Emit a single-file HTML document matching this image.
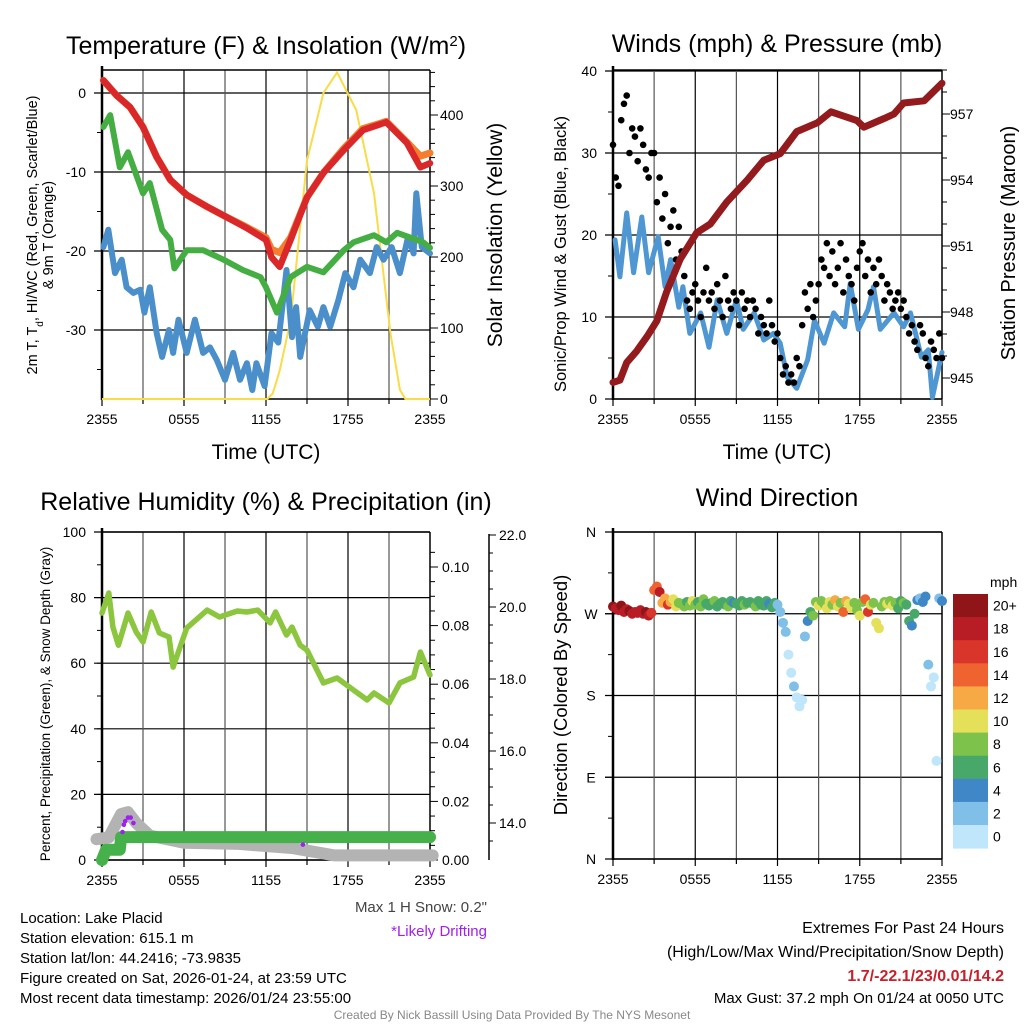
<!DOCTYPE html>
<html><head><meta charset="utf-8"><style>
html,body{margin:0;padding:0;background:#fff;}
svg{display:block;font-family:"Liberation Sans",Arial,sans-serif;}
</style></head><body>
<svg id="c" width="1024" height="1024" viewBox="0 0 1024 1024" xmlns="http://www.w3.org/2000/svg">
<rect width="1024" height="1024" fill="#fff"/>
<g id="g1"></g>
<g id="g2"></g>
<g id="g3"></g>
<g id="g4"></g>
<g font-size="15" fill="#000">
<text x="20" y="923">Location: Lake Placid</text>
<text x="20" y="943">Station elevation: 615.1 m</text>
<text x="20" y="963">Station lat/lon: 44.2416; -73.9835</text>
<text x="20" y="983">Figure created on Sat, 2026-01-24, at 23:59 UTC</text>
<text x="20" y="1003">Most recent data timestamp: 2026/01/24 23:55:00</text>
<text x="487" y="912" text-anchor="end" fill="#444">Max 1 H Snow: 0.2"</text>
<text x="487" y="936" text-anchor="end" fill="#a020f0">*Likely Drifting</text>
<text x="1004" y="933" text-anchor="end" font-size="16">Extremes For Past 24 Hours</text>
<text x="1004" y="957" text-anchor="end" font-size="16">(High/Low/Max Wind/Precipitation/Snow Depth)</text>
<text x="1004" y="981" text-anchor="end" font-size="16" font-weight="bold" fill="#c8202a">1.7/-22.1/23/0.01/14.2</text>
<text x="1004" y="1003" text-anchor="end">Max Gust: 37.2 mph On 01/24 at 0050 UTC</text>
<text x="512" y="1019" text-anchor="middle" font-size="12" fill="#888">Created By Nick Bassill Using Data Provided By The NYS Mesonet</text>
</g>
</svg>
<script>
// ---------- data ----------
const xTickLabels=["2355","0555","1155","1755","2355"];
const tempHours=[0.1,1.07,2.05,3,4,5,6.2,7.7,9.1,10.6,12,12.4,13,13.8,15,16.2,17.7,19.1,20.8,22.3,23.3,24];
const tempVals=[1.6,-0.3,-1.8,-4.3,-8.1,-11,-12.9,-14.4,-15.7,-17.1,-18.6,-20.8,-22,-18.6,-13.2,-10.1,-7.2,-4.7,-3.7,-6.3,-9.4,-8.9];
const temp9Vals=[1.6,-0.3,-1.8,-4.3,-8.1,-11,-12.9,-14.4,-15.7,-17.0,-18.3,-19.8,-20.2,-18.3,-13.2,-10.1,-7.0,-4.5,-3.6,-6.2,-8.0,-7.6];
const dewHours=[0.1,0.6,1.3,1.9,3,3.5,4.4,5,5.3,6.2,7.4,8.9,10.3,11.6,12,12.8,13.8,15,16.2,17.7,18.4,19.9,20.8,21.6,23.5,24];
const dewVals=[-4.3,-2.8,-9.4,-7.5,-12.7,-11.4,-17.3,-18.6,-22.2,-19.9,-19.9,-21.1,-22.4,-23.3,-24.6,-27.8,-23.3,-22,-22.7,-19.9,-18.9,-18,-18.9,-17.7,-18.9,-19.6];
const wcHours=[0.1,0.46,0.95,1.44,1.8,2.3,2.8,3.1,3.5,4,4.4,4.9,5.2,5.6,6.2,6.8,7.4,7.9,8.4,9,9.6,10.1,10.6,11,11.3,11.9,12.4,12.9,13.5,13.9,14.2,14.5,15.2,15.8,16.2,16.7,17.3,17.8,18.4,18.9,19.6,20.1,20.6,21.2,21.8,22.4,22.8,23,23.4,24];
const wcVals=[-19.5,-17.3,-22.8,-21.1,-24.6,-25.3,-24.9,-27.8,-24.6,-30.4,-33.4,-30,-32.9,-28.7,-32.9,-28.7,-32.9,-32.2,-33.8,-36.3,-32.9,-36.3,-34.2,-37.6,-34.2,-37.1,-30.4,-31.6,-22.4,-30.9,-27.1,-33.4,-27.5,-29.6,-27.1,-29.6,-26.2,-22.8,-24.6,-21.1,-22.8,-19.5,-21.1,-19.5,-22.8,-18.2,-20.3,-12.7,-19.5,-20.3];
const solarHours=[0,12.1,12.5,13,13.8,15,16.2,17.2,18.6,19.9,21.1,21.8,22.2,24];
const solarVals=[0,0,8,40,111,336,431,460,407,290,93,13,0,0];
const tempTicks=[0,-10,-20,-30];
const solarTicks=[0,100,200,300,400];

const presHours=[0,0.5,1,1.7,2.5,3.2,3.9,4.9,6.1,7.1,8.3,9.8,11,12.2,13.4,14.9,15.9,16.6,17.8,18.3,19.8,20.5,21.2,22.7,24];
const presVals=[944.8,944.9,945.7,946.2,946.9,947.6,948.9,950.4,951.6,952.0,953,954,954.9,955.2,956.2,956.6,957.1,956.95,956.7,956.4,956.8,957,957.5,957.6,958.4];
const windHours=[0.15,0.5,1,1.5,2.1,2.6,3.3,3.8,4.2,4.8,5.1,5.6,6.4,7,7.6,8.3,9,9.5,10.3,11,11.7,12.2,12.7,13.4,14.2,14.7,15.4,16.1,16.9,17.3,17.9,18.6,19,19.5,20.5,21.2,21.7,22.5,23,23.3,24];
const windVals=[19.4,14.9,22.7,15.4,22.2,15.4,19.8,13.7,17,11.2,13.7,8,10.5,6.3,12.1,8,12.1,8.5,10.5,7.2,8,6.8,2.7,1.3,4.8,9.6,6.8,10.5,8.8,14.1,8.5,10.9,13.7,8.5,10.5,8.8,10.5,5.1,6,0.2,5.7];
const gustVals=[31,27,26,34,36,37,30,33,32,29,33,31,28,27,30,30,24,27,22,25,19,21,23,17,21,18,15,12,11,13,14,12,10,13,16,12,13,11,14,12,10,15,12,11,13,12,9,13,11,12,10,12,11,8,10,9,8,12,9,7,8,5,3,4,2,3,2,5,4,9,13,11,14,10,12,14,17,16,19,15,18,14,16,19,13,17,15,14,12,16,18,19,15,17,13,16,14,17,15,12,14,13,11,12,13,11,12,10,8,9,7,6,9,8,5,4,7,6,5,8,5];
const windTicks=[0,10,20,30,40];
const presTicks=[945,948,951,954,957];

const rhHours=[0,0.5,0.8,1.2,1.9,2.5,3,3.6,4.2,4.9,5.2,6.2,7.7,8.6,9.9,10.6,11.4,12.3,12.7,13.5,13.9,14.5,15,16.2,17.2,18.1,19.4,19.9,21,21.8,22.8,23.3,24];
const rhVals=[75.3,81.4,71,65.5,75.3,69.5,66.5,75.6,69.2,68,58.8,70.7,76.2,74.1,75.9,75.6,76.2,72.3,75.6,68.6,71,65.5,64,54,55.5,52.7,48.8,50.9,47.9,54,55.8,63.4,56.4];
const snowHours=[-0.4,0.5,1.4,1.9,2.5,3.5,6,10,14,17,24.2];
const snowVals=[13.55,13.6,14.25,14.3,14.0,13.65,13.45,13.42,13.3,13.1,13.1];
const precipHours=[0,0.3,1.3,1.4,24];
const precipVals=[0,0.0035,0.0035,0.0078,0.0078];
const driftHours=[1.5,1.7,1.9,2.1,2.3,1.6,14.7];
const driftVals=[13.75,14.05,14.15,14.15,14.0,13.95,13.4];
const rhTicks=[0,20,40,60,80,100];
const precipTicks=[0,0.02,0.04,0.06,0.08,0.10];
const snowTicks=[14,16,18,20,22];

const dirVals=[278,276,274,279,272,275,273,270,272,271,274,270,272,268,271,296,300,294,282,287,280,283,286,278,282,281,278,283,279,284,280,283,278,286,281,279,282,284,278,281,283,280,278,284,282,281,279,284,280,282,283,281,278,284,280,279,284,281,277,282,280,272,260,250,225,205,190,178,168,175,245,262,272,268,283,279,284,281,276,283,280,285,278,282,272,284,281,276,282,274,268,283,286,272,280,282,260,254,278,283,281,284,279,282,276,284,282,280,262,257,270,285,287,283,289,214,190,200,108,287,284];
const spdVals=[20,19,18,20,19,19,20,18,19,18,19,18,20,19,17,14,15,18,13,12,16,12,11,10,9,8,9,7,8,10,8,7,9,8,7,6,7,8,7,6,7,6,8,7,5,6,7,6,8,7,7,6,8,7,6,6,7,5,6,7,3,2,3,2,1,1,2,1,0,1,3,4,7,8,9,10,9,8,11,10,9,12,10,8,14,13,10,11,9,8,10,9,15,16,10,9,10,10,8,9,10,9,11,8,7,7,8,6,7,5,6,4,3,5,4,2,1,0,1,3,4];
const dirTicks=["N","W","S","E","N"];
const spdColors=["#bfe6fa","#80bfe8","#3f87c6","#47a869","#7cc24b","#e5e05a","#f6a945","#ef6330","#d9352a","#b81c25","#8f1519"];
const spdLabels=["0","2","4","6","8","10","12","14","16","18","20+"];

// ---------- helpers ----------
const NS="http://www.w3.org/2000/svg";
function mk(parent,tag,attrs){const e=document.createElementNS(NS,tag);for(const k in attrs)e.setAttribute(k,attrs[k]);parent.appendChild(e);return e;}
function txt(parent,x,y,s,attrs){const e=mk(parent,"text",Object.assign({x:x,y:y},attrs||{}));e.textContent=s;return e;}
function pathFrom(xs,ys,fx,fy){let d="";for(let i=0;i<xs.length;i++){d+=(i?"L":"M")+fx(xs[i]).toFixed(1)+" "+fy(ys[i]).toFixed(1);}return d;}

function frame(g,L,T,R,B){
  for(let i=1;i<8;i++){const x=L+(R-L)*i/8;
    const l=mk(g,"line",{x1:x,y1:T,x2:x,y2:B,stroke:i%2?"#555":"#000","stroke-width":1.2});
    
    }
  mk(g,"line",{x1:L,y1:T,x2:R,y2:T,stroke:"#000","stroke-width":1.5});
  mk(g,"line",{x1:R,y1:T,x2:R,y2:B,stroke:"#000","stroke-width":1.5});
  mk(g,"line",{x1:L,y1:B,x2:R,y2:B,stroke:"#000","stroke-width":1.5});
  mk(g,"line",{x1:L,y1:T-4,x2:L,y2:B+1,stroke:"#000","stroke-width":2.5});
  for(let i=0;i<=8;i++){const x=L+(R-L)*i/8;mk(g,"line",{x1:x,y1:B,x2:x,y2:B+(i%2?5:7),stroke:"#000","stroke-width":1.2});}
  for(let i=0;i<5;i++){const t=txt(g,L+(R-L)*i/4,B+25,xTickLabels[i],{"text-anchor":"middle","font-size":14});
    
    }
}
function hgrid(g,L,R,y){mk(g,"line",{x1:L-8,y1:y,x2:R,y2:y,stroke:"#000","stroke-width":1.2});}

// ---------- panel 1 ----------
(function(){
  const g=document.getElementById("g1");const L=102,T=70,R=430,B=399;
  const x=h=>L+h*(R-L)/24, yT=t=>93-t*7.9, yS=s=>399-s*0.71;
  for(let t=-35;t<=0;t+=5)mk(g,"line",{x1:L-5,y1:yT(t),x2:L,y2:yT(t),stroke:"#000","stroke-width":1});
  tempTicks.forEach(t=>{hgrid(g,L,R,yT(t));const e=txt(g,86,yT(t)+5,String(t),{"text-anchor":"end","font-size":14});
    
    });
  for(let s=0;s<=460;s+=20)mk(g,"line",{x1:R,y1:yS(s),x2:R+(s%100?5:8),y2:yS(s),stroke:"#000","stroke-width":1});
  solarTicks.forEach(s=>{const e=txt(g,440,yS(s)+5,String(s),{"font-size":14});
    
    });
  frame(g,L,T,R,B);
  const sp=mk(g,"path",{d:pathFrom(solarHours,solarVals,x,yS),fill:"none",stroke:"#f8dc48","stroke-width":2});
  
  
  const w=mk(g,"path",{d:pathFrom(wcHours,wcVals,x,yT),fill:"none",stroke:"#4a8fca","stroke-width":6,"stroke-linejoin":"round","stroke-linecap":"round"});
  
  
  const d=mk(g,"path",{d:pathFrom(dewHours,dewVals,x,yT),fill:"none",stroke:"#45ae43","stroke-width":6,"stroke-linejoin":"round","stroke-linecap":"round"});
  
  
  const o=mk(g,"path",{d:pathFrom(tempHours,temp9Vals,x,yT),fill:"none",stroke:"#f57d2c","stroke-width":7,"stroke-linejoin":"round","stroke-linecap":"round"});
  
  
  const r=mk(g,"path",{d:pathFrom(tempHours,tempVals,x,yT),fill:"none",stroke:"#d9272a","stroke-width":6.5,"stroke-linejoin":"round","stroke-linecap":"round"});
  
  
  const ti=txt(g,266,54,"Temperature (F) & Insolation (W/m",{"text-anchor":"middle","font-size":25});
  const sup=mk(ti,"tspan",{"baseline-shift":"super","font-size":15});sup.textContent="2";
  const cl=mk(ti,"tspan",{});cl.textContent=")";
  
  
  const yl=mk(g,"text",{transform:"translate(37,235) rotate(-90)","text-anchor":"middle","font-size":14.5});
  yl.innerHTML='2m T, T<tspan baseline-shift="sub" font-size="10">d</tspan>, HI/WC (Red, Green, Scarlet/Blue)';
  
  
  const yl2=txt(g,0,0,"& 9m T (Orange)",{transform:"translate(53,235) rotate(-90)","text-anchor":"middle","font-size":14.5});
  
  
  const rl=txt(g,0,0,"Solar Insolation (Yellow)",{transform:"translate(502,235) rotate(-90)","text-anchor":"middle","font-size":21});
  
  
  const xl=txt(g,266,459,"Time (UTC)",{"text-anchor":"middle","font-size":21});
  
  
})();

// ---------- panel 2 ----------
(function(){
  const g=document.getElementById("g2");const L=613,T=70,R=942,B=399;
  const x=h=>L+h*(R-L)/24, yW=w=>399-w*8.2, yP=p=>378-(p-945)*22;
  for(let w=0;w<=40;w+=5)mk(g,"line",{x1:L-5,y1:yW(w),x2:L,y2:yW(w),stroke:"#000","stroke-width":1});
  windTicks.forEach(w=>{hgrid(g,L,R,yW(w));const e=txt(g,597,yW(w)+5,String(w),{"text-anchor":"end","font-size":14});
    
    });
  for(let p=944;p<=959;p++){const y=yP(p);if(y<T||y>B)continue;mk(g,"line",{x1:R,y1:y,x2:R+((p-945)%3?5:8),y2:y,stroke:"#000","stroke-width":1});}
  presTicks.forEach(p=>{const e=txt(g,950,yP(p)+5,String(p),{"font-size":14});
    
    });
  frame(g,L,T,R,B);
  const w=mk(g,"path",{d:pathFrom(windHours,windVals,x,yW),fill:"none",stroke:"#4f97d2","stroke-width":5,"stroke-linejoin":"round","stroke-linecap":"round"});
  
  
  gustVals.forEach((v,i)=>{const c=mk(g,"circle",{cx:x(i*0.2),cy:yW(v),r:3.3,fill:"#000"});
    
    });
  const p=mk(g,"path",{d:pathFrom(presHours,presVals,x,yP),fill:"none",stroke:"#931a1d","stroke-width":7,"stroke-linejoin":"round","stroke-linecap":"round"});
  
  
  const ti=txt(g,777,52,"Winds (mph) & Pressure (mb)",{"text-anchor":"middle","font-size":25});
  
  
  const yl=txt(g,0,0,"Sonic/Prop Wind & Gust (Blue, Black)",{transform:"translate(566,254) rotate(-90)","text-anchor":"middle","font-size":16.5});
  
  
  const rl=txt(g,0,0,"Station Pressure (Maroon)",{transform:"translate(1015,243) rotate(-90)","text-anchor":"middle","font-size":20});
  
  
  const xl=txt(g,777,459,"Time (UTC)",{"text-anchor":"middle","font-size":21});
  
  
})();

// ---------- panel 3 ----------
(function(){
  const g=document.getElementById("g3");const L=102,T=532,R=430,B=860;
  const x=h=>L+h*(R-L)/24, yR=r=>860-r*3.28, yPr=p=>860-p*2930, ySn=s=>823-(s-14)*36;
  for(let r=0;r<=100;r+=10)mk(g,"line",{x1:L-5,y1:yR(r),x2:L,y2:yR(r),stroke:"#000","stroke-width":1});
  rhTicks.forEach(r=>{hgrid(g,L,R,yR(r));const e=txt(g,86,yR(r)+5,String(r),{"text-anchor":"end","font-size":14});
    
    });
  for(let p=0;p<=0.11;p+=0.005)mk(g,"line",{x1:R,y1:yPr(p),x2:R+(Math.round(p*1000)%20?5:8),y2:yPr(p),stroke:"#000","stroke-width":1});
  precipTicks.forEach(p=>{const e=txt(g,442,yPr(p)+5,p.toFixed(2),{"font-size":14});
    
    });
  mk(g,"line",{x1:489,y1:534,x2:489,y2:860,stroke:"#000","stroke-width":1.5});
  for(let s=13.5;s<=22;s+=0.5)mk(g,"line",{x1:489,y1:ySn(s),x2:489+(s%2?4:7),y2:ySn(s),stroke:"#000","stroke-width":1});
  snowTicks.forEach(s=>{const e=txt(g,499,ySn(s)+5,s.toFixed(1),{"font-size":14});
    
    });
  frame(g,L,T,R,B);
  const sn=mk(g,"path",{d:pathFrom(snowHours,snowVals,x,ySn),fill:"none",stroke:"#b3b3b3","stroke-width":12,"stroke-linejoin":"round","stroke-linecap":"round"});
  
  
  const pr=mk(g,"path",{d:pathFrom(precipHours,precipVals,x,yPr),fill:"none",stroke:"#46b04a","stroke-width":12,"stroke-linejoin":"round","stroke-linecap":"round"});
  
  
  driftHours.forEach((h,i)=>{const c=mk(g,"circle",{cx:x(h),cy:ySn(driftVals[i]),r:2.3,fill:"#a020f0"});
    
    });
  const rh=mk(g,"path",{d:pathFrom(rhHours,rhVals,x,yR),fill:"none",stroke:"#8cc63f","stroke-width":5.5,"stroke-linejoin":"round","stroke-linecap":"round"});
  
  
  const ti=txt(g,266,510,"Relative Humidity (%) & Precipitation (in)",{"text-anchor":"middle","font-size":25});
  
  
  const yl=txt(g,0,0,"Percent, Precipitation (Green), & Snow Depth (Gray)",{transform:"translate(50,704) rotate(-90)","text-anchor":"middle","font-size":13.5});
  
  
})();

// ---------- panel 4 ----------
(function(){
  const g=document.getElementById("g4");const L=613,T=532,R=942,B=859;
  const x=h=>L+h*(R-L)/24, yD=d=>859-d*0.9083;
  for(let i=0;i<=8;i++){const y=B-(B-T)*i/8;mk(g,"line",{x1:L-(i%2?5:8),y1:y,x2:L,y2:y,stroke:"#000","stroke-width":1});}
  dirTicks.forEach((s,i)=>{const y=B-(B-T)*(4-i)/4;hgrid(g,L,R,y);const e=txt(g,591,y+5,s,{"text-anchor":"middle","font-size":14});
    
    });
  frame(g,L,T,R,B);
  dirVals.forEach((d,i)=>{const s=spdVals[i];const c=mk(g,"circle",{cx:x(i*0.2),cy:yD(d),r:5,fill:spdColors[Math.min(10,Math.floor(s/2))]});
    
    });
  const ti=txt(g,777,506,"Wind Direction",{"text-anchor":"middle","font-size":25});
  
  
  const yl=txt(g,0,0,"Direction (Colored By Speed)",{transform:"translate(567,695) rotate(-90)","text-anchor":"middle","font-size":18.5});
  
  
  const cb=mk(g,"g",{});
  
  
  const t0=594,h=23.1;
  for(let i=0;i<11;i++){const k=10-i;mk(cb,"rect",{x:953,y:t0+i*h,width:35,height:h+0.5,fill:spdColors[k]});
    const e=txt(cb,993,t0+i*h+h/2+5,spdLabels[k],{"font-size":14});
    
    }
  const m=txt(cb,990,587,"mph",{"font-size":14});
  
  
})();
</script>
</body></html>
